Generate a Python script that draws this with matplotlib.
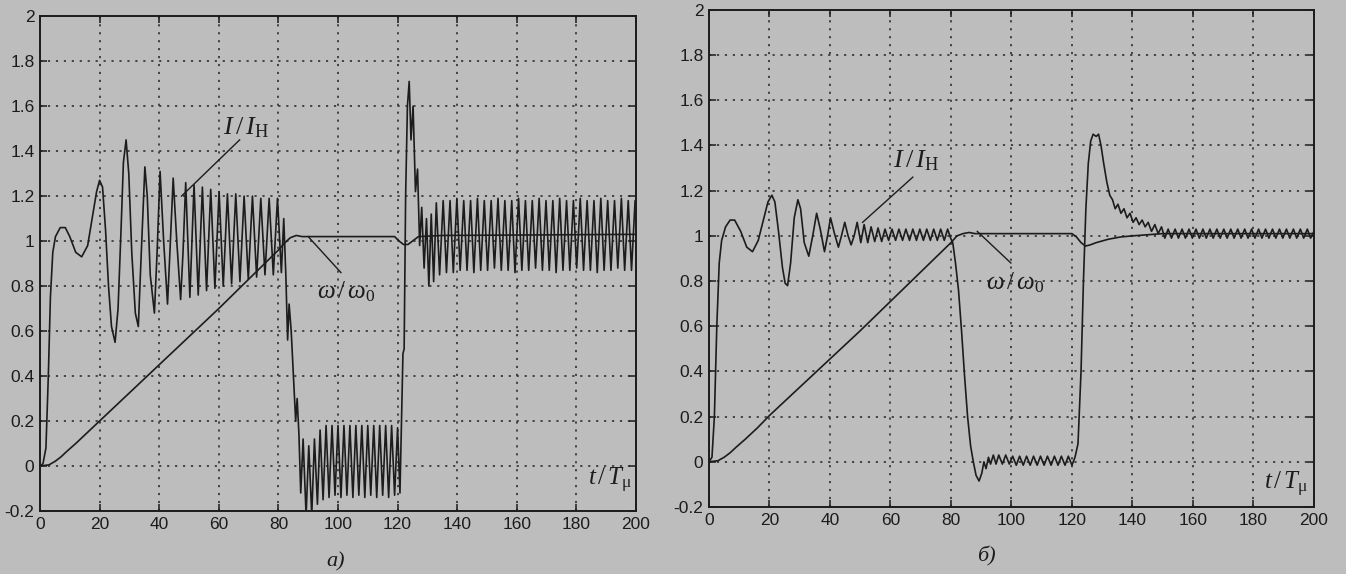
import matplotlib
matplotlib.use('Agg')
import matplotlib.pyplot as plt
from matplotlib.ticker import MultipleLocator, FuncFormatter

plt.rcParams['font.family'] = ['Liberation Sans', 'DejaVu Sans']
plt.rcParams['mathtext.fontset'] = 'custom'
plt.rcParams['mathtext.rm'] = 'Liberation Serif'
plt.rcParams['mathtext.it'] = 'Liberation Serif:italic'
plt.rcParams['mathtext.bf'] = 'Liberation Serif:bold'

# ---- panel a) : current I/I_H (extrema + turning points)
a_cur_t = [0, 1, 2, 2.8, 3.5, 4.3, 5.2, 6.8, 8.5, 10, 12, 14, 16, 17.5, 19, 20, 21, 22, 23, 24, 25.2,
           26.2, 27.2, 28, 28.9, 29.8, 30.8, 32, 33, 34, 35.2, 36, 37, 38.4, 39.3, 40.3, 41.5, 42.8,
           43.6, 44.7, 45.9, 47.2, 48.0, 48.9,
           50.3, 51.7, 53.1, 54.5, 55.9, 57.3, 58.7, 60.1, 61.5, 62.9, 64.3, 65.7, 67.1, 68.5, 69.9,
           71.3, 72.7, 74.1, 75.5, 76.9, 78.3, 79.7, 81.0, 81.8, 82.5, 83.1, 83.6, 84.3, 85.2, 85.8,
           86.3, 86.9,
           87.5, 88.3, 89.3, 90.2, 91.2, 92.1, 93.1, 94.0, 95.0, 96.0, 97.0, 98.0, 99.0, 100.0, 101.0,
           102.0, 103.0, 104.0, 105.0, 106.0, 107.0, 108.0, 109.0, 110.0, 111.0, 112.0, 113.0, 114.0,
           115.0, 116.0, 117.0, 118.0, 119.0, 120.0, 120.8,
           121.3, 121.8, 122.2, 122.7, 123.3, 123.9, 124.5, 125.2, 126.0, 126.7, 127.4, 128.1, 128.9,
           129.7, 130.5, 131.3, 132.1, 133.0,
           134.1, 135.3, 136.4, 137.6, 138.7, 139.9, 141.0, 142.2, 143.3, 144.5, 145.6, 146.8, 147.9,
           149.1, 150.2, 151.4, 152.5, 153.7, 154.8, 156.0, 157.1, 158.3, 159.4, 160.6, 161.7, 162.9,
           164.0, 165.2, 166.3, 167.5, 168.6, 169.8, 170.9, 172.1, 173.2, 174.4, 175.5, 176.7, 177.8,
           179.0, 180.1, 181.3, 182.4, 183.6, 184.7, 185.9, 187.0, 188.2, 189.3, 190.5, 191.6, 192.8,
           193.9, 195.1, 196.2, 197.4, 198.5, 199.7, 200.0]
a_cur_v = [0, 0.01, 0.08, 0.4, 0.75, 0.95, 1.02, 1.06, 1.06, 1.02, 0.95, 0.93, 0.98, 1.1, 1.22, 1.27,
           1.24, 1.05, 0.8, 0.62, 0.55,
           0.7, 1.05, 1.35, 1.45, 1.3, 0.95, 0.68, 0.62, 0.95, 1.33, 1.2, 0.85, 0.68, 0.95, 1.31, 1.0,
           0.72, 0.95, 1.28, 1.0, 0.74, 0.95, 1.26,
           0.75, 1.25, 0.76, 1.24, 0.78, 1.23, 0.79, 1.22, 0.80, 1.21, 0.81, 1.21, 0.82, 1.20, 0.83,
           1.20, 0.84, 1.19, 0.85, 1.19, 0.85, 1.19, 0.86, 1.10, 0.85, 0.56, 0.72, 0.60, 0.36, 0.20,
           0.30, 0.14,
           -0.12, 0.12, -0.22, 0.09, -0.22, 0.12, -0.17, 0.16, -0.15, 0.18, -0.14, 0.18, -0.13, 0.18,
           -0.14, 0.18, -0.13, 0.18, -0.14, 0.18, -0.13, 0.18, -0.14, 0.18, -0.13, 0.18, -0.14, 0.18,
           -0.13, 0.18, -0.14, 0.18, -0.13, 0.17, -0.12,
           0.2, 0.5, 0.52, 1.2, 1.6, 1.71, 1.45, 1.6, 1.22, 1.32, 0.98, 1.15, 0.88,
           1.1, 0.8, 1.12, 0.82, 1.17,
           0.85, 1.18, 0.86, 1.18, 0.86, 1.19, 0.87, 1.18, 0.87, 1.18, 0.86, 1.19, 0.87,
           1.18, 0.87, 1.18, 0.88, 1.19, 0.87, 1.18, 0.87, 1.18, 0.86, 1.19, 0.87, 1.18,
           0.87, 1.18, 0.88, 1.19, 0.87, 1.18, 0.87, 1.18, 0.86, 1.19, 0.87, 1.18, 0.87,
           1.18, 0.88, 1.19, 0.87, 1.18, 0.87, 1.18, 0.86, 1.19, 0.87, 1.18, 0.87, 1.18,
           0.88, 1.19, 0.87, 1.18, 0.87, 1.18, 1.1]

# ---- panel a) : speed w/w0
a_om_t = [0, 3, 5, 7, 9, 12, 16, 20, 30, 40, 50, 60, 70, 80, 82, 84, 86, 88, 100, 119,
          120.5, 122, 123.5, 125, 127, 135, 200]
a_om_v = [0, 0.005, 0.02, 0.04, 0.065, 0.1, 0.15, 0.2, 0.325, 0.45, 0.575, 0.7, 0.83, 0.96,
          0.99, 1.015, 1.025, 1.02, 1.02, 1.02, 1.0, 0.985, 0.985, 1.0, 1.02, 1.025, 1.03]

# ---- panel b) : current I/I_H
b_cur_t = [0, 1, 1.8, 2.6, 3.4, 4.2, 5.5, 7, 8.5, 10.5, 12.5, 14.4, 16.3, 18, 19.5, 20.8, 21.8, 23,
           24.3, 25.2, 26, 27, 28.2, 29.4, 30.3, 31.5, 33, 34.3, 35.6, 36.8, 38.2, 39.2, 40.2, 41.5,
           42.8, 43.8, 44.9, 46, 47, 48, 49,
           50.2, 51.3, 52.5, 53.6, 54.8, 55.9, 57.1, 58.2, 59.4, 60.5, 61.7, 62.8, 64.0, 65.1, 66.3,
           67.4, 68.6, 69.7, 70.9, 72.0, 73.2, 74.3, 75.5, 76.6, 77.8, 78.9, 79.9,
           80.6, 81.5, 82.5, 83.5, 84.5, 85.5, 86.5, 87.4, 88.3, 89.3, 90.2, 90.9, 91.6, 92.4, 93.1,
           94.0, 94.9, 95.8, 97.0, 98.1, 99.3, 100.4, 101.6, 102.7, 103.9, 105.0, 106.2, 107.3, 108.5,
           109.6, 110.8, 111.9, 113.1, 114.2, 115.4, 116.5, 117.7, 118.8, 120.0,
           121.0, 122.0, 123.0, 123.8, 124.6, 125.4, 126.2, 127.0, 128.0, 128.8, 129.6, 130.5, 131.5,
           132.5, 133.4, 134.3, 135.2, 136.2, 137.2, 138.2, 139.2, 140.2, 141.2, 142.2, 143.2, 144.2,
           145.2, 146.3, 147.4, 148.5, 149.6, 150.7, 151.8,
           152.9, 154.1, 155.2, 156.4, 157.5, 158.7, 159.8, 161.0, 162.1, 163.3, 164.4, 165.6, 166.7,
           167.9, 169.0, 170.2, 171.3, 172.5, 173.6, 174.8, 175.9, 177.1, 178.2, 179.4, 180.5, 181.7,
           182.8, 184.0, 185.1, 186.3, 187.4, 188.6, 189.7, 190.9, 192.0, 193.2, 194.3, 195.5, 196.6,
           197.8, 198.9, 200.0]
b_cur_v = [0, 0.02, 0.2, 0.6, 0.88, 0.98, 1.04, 1.07, 1.07, 1.02, 0.95, 0.93, 0.98, 1.07, 1.15,
           1.18, 1.15, 1.02, 0.86, 0.79, 0.78, 0.88, 1.08, 1.16, 1.12, 0.97, 0.91, 1.0, 1.1, 1.03,
           0.93, 1.0, 1.08, 1.01, 0.95, 1.0, 1.06, 1.0, 0.96, 1.0, 1.06,
           0.97, 1.05, 0.97, 1.04, 0.975, 1.035, 0.975, 1.03, 0.98, 1.03, 0.98, 1.03, 0.98, 1.03,
           0.98, 1.03, 0.98, 1.03, 0.98, 1.03, 0.98, 1.03, 0.98, 1.03, 0.98, 1.03, 0.99,
           0.97, 0.88, 0.76, 0.58, 0.38, 0.2, 0.07, 0.0, -0.06, -0.085, -0.05, 0.0, -0.03, 0.02,
           -0.01, 0.03, -0.01, 0.03, -0.01, 0.03, -0.01, 0.025, -0.015, 0.025, -0.015, 0.025, -0.015,
           0.025, -0.015, 0.025, -0.015, 0.025, -0.015, 0.025, -0.015, 0.025, -0.015, 0.025, -0.015,
           0.02, 0.08, 0.4, 0.8, 1.12, 1.32, 1.42, 1.45, 1.44, 1.45, 1.4, 1.32, 1.24,
           1.18, 1.16, 1.12, 1.14, 1.1, 1.12, 1.08, 1.1, 1.06, 1.08, 1.05, 1.07, 1.04,
           1.06, 1.02, 1.05, 1.01, 1.04, 0.99, 1.03,
           0.99, 1.03, 0.99, 1.03, 0.99, 1.03, 0.99, 1.03, 0.99, 1.03, 0.99, 1.03, 0.99,
           1.03, 0.99, 1.03, 0.99, 1.03, 0.99, 1.03, 0.99, 1.03, 0.99, 1.03, 0.99, 1.03,
           0.99, 1.03, 0.99, 1.03, 0.99, 1.03, 0.99, 1.03, 0.99, 1.03, 0.99, 1.03, 0.99,
           1.03, 0.99, 1.02]

# ---- panel b) : speed w/w0
b_om_t = [0, 3, 5, 7, 9, 12, 16, 20, 30, 40, 50, 60, 70, 80, 82, 84, 86, 88, 100, 120,
          121.5, 123, 124.5, 126, 128, 132, 136, 140, 145, 150, 200]
b_om_v = [0, 0.005, 0.02, 0.04, 0.065, 0.1, 0.15, 0.205, 0.33, 0.455, 0.58, 0.71, 0.84, 0.97,
          1.0, 1.01, 1.015, 1.01, 1.01, 1.01, 0.995, 0.97, 0.955, 0.96, 0.97, 0.985, 0.995,
          1.0, 1.005, 1.01, 1.01]

paper = '#bdbdbd'
ink = '#1c1c1c'

fig = plt.figure(figsize=(13.46, 5.74), dpi=100, facecolor=paper)
ax_a = fig.add_axes([0.0297, 0.1098, 0.4428, 0.862])
ax_b = fig.add_axes([0.5267, 0.1167, 0.4495, 0.866])


def style(ax):
    ax.set_facecolor(paper)
    ax.set_xlim(0, 200)
    ax.set_ylim(-0.2, 2)
    ax.xaxis.set_major_locator(MultipleLocator(20))
    ax.yaxis.set_major_locator(MultipleLocator(0.2))
    ax.yaxis.set_major_formatter(FuncFormatter(lambda v, p: '%g' % round(v, 1)))
    ax.tick_params(direction='in', top=True, right=True, length=5, width=1.1,
                   labelsize=12.5, colors=ink, pad=4)
    ax.grid(True, linestyle=(0, (1.2, 3.2)), linewidth=1.3, color='#3a3a3a')
    for s in ax.spines.values():
        s.set_linewidth(1.4)
        s.set_color(ink)


for ax in (ax_a, ax_b):
    style(ax)

ax_a.plot(a_cur_t, a_cur_v, color=ink, lw=1.2)
ax_a.plot(a_om_t, a_om_v, color=ink, lw=1.2)
ax_b.plot(b_cur_t, b_cur_v, color=ink, lw=1.2)
ax_b.plot(b_om_t, b_om_v, color=ink, lw=1.2)

lab_I = r'$I\,/\,I_{\mathrm{Н}}$'
lab_w = r'$\omega\,/\,\omega_{\mathrm{0}}$'
lab_t = r'$t\,/\,T_{\mathrm{\mu}}$'

# panel a annotations
ax_a.text(61.5, 1.45, lab_I, fontsize=19, color=ink, ha='left', va='bottom')
ax_a.plot([47.5, 67], [1.2, 1.45], color=ink, lw=1.0)
ax_a.text(92.8, 0.72, lab_w, fontsize=18, color=ink, ha='left', va='bottom')
ax_a.plot([90, 101], [1.02, 0.86], color=ink, lw=1.0)
ax_a.text(184, -0.13, lab_t, fontsize=18, color=ink, ha='left', va='bottom')

# panel b annotations
ax_b.text(61, 1.28, lab_I, fontsize=19, color=ink, ha='left', va='bottom')
ax_b.plot([50.8, 67.4], [1.06, 1.26], color=ink, lw=1.0)
ax_b.text(91.6, 0.74, lab_w, fontsize=18, color=ink, ha='left', va='bottom')
ax_b.plot([88.7, 99.8], [1.02, 0.88], color=ink, lw=1.0)
ax_b.text(183.5, -0.165, lab_t, fontsize=18, color=ink, ha='left', va='bottom')

fig.text(0.249, 0.021, 'а)', fontsize=16, family='Liberation Serif', style='italic',
         color=ink, ha='center', va='center')
fig.text(0.733, 0.031, 'б)', fontsize=16, family='Liberation Serif', style='italic',
         color=ink, ha='center', va='center')

fig.savefig('out.png', dpi=100, facecolor=paper)
